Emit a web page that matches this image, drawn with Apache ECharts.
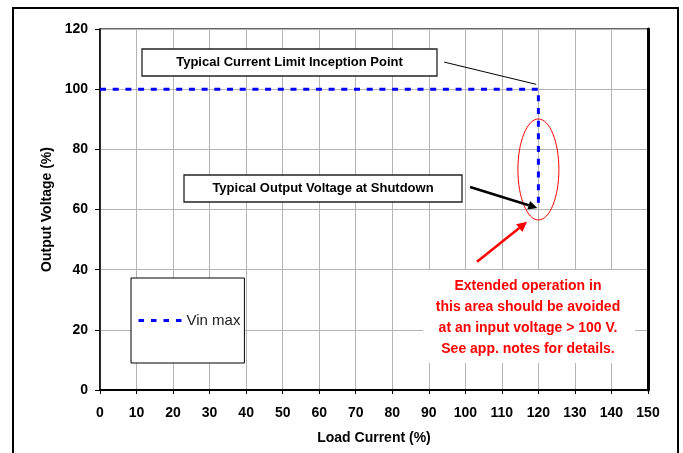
<!DOCTYPE html>
<html>
<head>
<meta charset="UTF-8">
<title>Output Voltage vs Load Current</title>
<script src="https://cdn.jsdelivr.net/npm/echarts@6/dist/echarts.min.js"></script>
<style>
    html, body { margin: 0; padding: 0; background: #fff; }
    #main { width: 683px; height: 453px; }
</style>
</head>
<body>
<div id="main"></div>
<script>
// data
var loadCurrent = [0, 120, 120];
var outputVoltage = [100, 100, 60];
var seriesName = 'Vin max';

// axis ranges
var xMin = 0, xMax = 150, xStep = 10;
var yMin = 0, yMax = 120, yStep = 20;

var font = 'Arial, "Liberation Sans", sans-serif';
var chart = echarts.init(document.getElementById('main'));

var points = loadCurrent.map(function (x, i) { return [x, outputVoltage[i]]; });

chart.setOption({
    animation: false,
    backgroundColor: '#fff',
    grid: { left: 100, right: 35, top: 29, bottom: 63, show: true, borderColor: '#333', borderWidth: 1.5 },
    legend: {
        left: 131, top: 278, orient: 'vertical',
        padding: [35, 4, 35, 6],
        itemWidth: 43, itemHeight: 14,
        borderColor: '#000', borderWidth: 1, backgroundColor: '#fff',
        itemStyle: { opacity: 0 },   // hides the circle the line legend icon adds
        lineStyle: { width: 3, type: [5.5, 7], color: '#0000ff' },
        textStyle: { fontFamily: font, fontSize: 15, color: '#222' },
        data: [seriesName]
    },
    xAxis: {
        type: 'value', min: xMin, max: xMax, interval: xStep,
        name: 'Load Current (%)', nameLocation: 'middle', nameGap: 41,
        nameTextStyle: { fontFamily: font, fontSize: 14, fontWeight: 'bold', color: '#000' },
        axisLine: { lineStyle: { color: '#000', width: 2 } },
        axisTick: { show: true, length: 4, lineStyle: { color: '#000' } },
        axisLabel: { margin: 16, fontFamily: font, fontSize: 14, fontWeight: 'bold', color: '#000' },
        splitLine: { lineStyle: { color: '#b4b4b4', width: 1 } }
    },
    yAxis: [{
        type: 'value', min: yMin, max: yMax, interval: yStep,
        name: 'Output Voltage (%)', nameLocation: 'middle', nameGap: 46,
        nameTextStyle: { fontFamily: font, fontSize: 14, fontWeight: 'bold', color: '#000' },
        axisLine: { show: true, lineStyle: { color: '#000', width: 1.5 } },
        axisTick: { show: true, length: 5, lineStyle: { color: '#000' } },
        axisLabel: { margin: 12, fontFamily: font, fontSize: 14, fontWeight: 'bold', color: '#000' },
        splitLine: { lineStyle: { color: '#b4b4b4', width: 1 } }
    }, {
        type: 'value', min: yMin, max: yMax, interval: yStep, position: 'right',
        axisLine: { show: true, lineStyle: { color: '#000', width: 3 } },
        axisTick: { show: false }, axisLabel: { show: false }, splitLine: { show: false }
    }],
    series: [{
        name: seriesName,
        type: 'line',
        data: points,
        symbol: 'none',
        lineStyle: { color: '#0000ff', width: 3, type: [6, 6.7], cap: 'butt' },
        itemStyle: { color: '#0000ff' },
        z: 5
    }]
});

// annotations, anchored to data positions where they point at the curve
function p(x, y) { return chart.convertToPixel({ gridIndex: 0 }, [x, y]); }

function arrow(a, b, color, w, headLen, headW) {
    var dx = b[0] - a[0], dy = b[1] - a[1];
    var len = Math.sqrt(dx * dx + dy * dy);
    var ux = dx / len, uy = dy / len;
    var bx = b[0] - ux * headLen, by = b[1] - uy * headLen;
    return [
        { type: 'line', z: 100, shape: { x1: a[0], y1: a[1], x2: bx, y2: by }, style: { stroke: color, lineWidth: w } },
        { type: 'polygon', z: 100, shape: { points: [b, [bx - uy * headW, by + ux * headW], [bx + uy * headW, by - ux * headW]] }, style: { fill: color } }
    ];
}

function labelBox(x, y, w, h, text) {
    return [
        { type: 'rect', z: 100, shape: { x: x, y: y, width: w, height: h }, style: { fill: '#fff', stroke: '#222', lineWidth: 1.3 } },
        { type: 'text', z: 101, x: x + w / 2, y: y + h / 2, style: { text: text, font: 'bold 13px ' + font, fill: '#000', align: 'center', verticalAlign: 'middle' } }
    ];
}

var lead0 = p(94.2, 109), lead1 = p(119.4, 101.6);
var ellC = p(120, 73.3);

var elements = [
    { type: 'rect', z: 100, shape: { x: 13, y: 8, width: 665, height: 460 }, style: { fill: null, stroke: '#000', lineWidth: 2 } },
    { type: 'line', z: 100, shape: { x1: lead0[0], y1: lead0[1], x2: lead1[0], y2: lead1[1] }, style: { stroke: '#000', lineWidth: 1 } },
    { type: 'ellipse', z: 100, shape: { cx: ellC[0], cy: ellC[1], rx: 20.5, ry: 50.5 }, style: { fill: null, stroke: '#ff0000', lineWidth: 1 } },
    { type: 'rect', z: 99, shape: { x: 423, y: 270, width: 212, height: 93 }, style: { fill: '#fff' } },
    { type: 'text', z: 101, x: 528, y: 317.5, style: {
        text: 'Extended operation in\nthis area should be avoided\nat an input voltage > 100 V.\nSee app. notes for details.',
        font: 'bold 14px ' + font, fill: '#ff0000', align: 'center', verticalAlign: 'middle', lineHeight: 21 } }
];
elements = elements
    .concat(labelBox(142, 49, 295, 27, 'Typical Current Limit Inception Point'))
    .concat(labelBox(184, 175, 278, 27, 'Typical Output Voltage at Shutdown'))
    .concat(arrow(p(101.3, 67.5), p(119.7, 60.5), '#000', 2.5, 9, 4.5))
    .concat(arrow(p(103.2, 42.6), p(116.9, 55.9), '#ff0000', 2.5, 10, 5));

chart.setOption({ graphic: { elements: elements } });
</script>
</body>
</html>
